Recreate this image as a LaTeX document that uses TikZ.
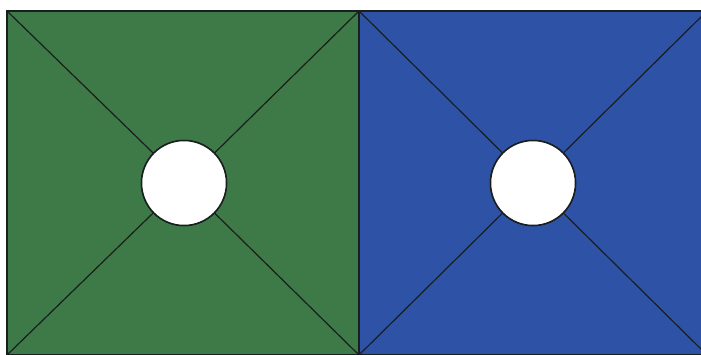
\documentclass[tikz,border=0pt]{standalone}
\definecolor{sqgreen}{RGB}{62,122,72}
\definecolor{sqblue}{RGB}{46,82,166}
\definecolor{edge}{RGB}{25,30,30}
\begin{document}
\begin{tikzpicture}[x=1pt,y=-1pt,
  panel/.style={draw=edge,line width=1.5pt},
  divider/.style={draw=edge,line width=2.6pt},
  diag/.style={draw=edge,line width=1.2pt},
  hole/.style={circle,draw=edge,line width=1.5pt,fill=white,minimum size=85pt,inner sep=0pt}]
\useasboundingbox (0,0) rectangle (701,354);
\fill[white] (0,0) rectangle (701,354);
% green panel
\coordinate (g1) at (7,11);
\coordinate (g2) at (359,11);
\coordinate (g3) at (359,355);
\coordinate (g4) at (7,355);
\fill[sqgreen] (g1) rectangle (g3);
% blue panel
\coordinate (b1) at (359,11);
\coordinate (b2) at (707,11);
\coordinate (b3) at (707,355);
\coordinate (b4) at (359,355);
\fill[sqblue] (b1) rectangle (b3);
\node[hole] (gc) at (184,183) {};
\node[hole] (bc) at (533,183) {};
\foreach \c in {g1,g2,g3,g4} \draw[diag] (\c) -- (gc);
\foreach \c in {b1,b2,b3,b4} \draw[diag] (\c) -- (bc);
\draw[panel] (g1) rectangle (g3);
\draw[panel] (b1) rectangle (b3);
\draw[divider] (g2) -- (g3);
\node[hole] at (gc) {};
\node[hole] at (bc) {};
\end{tikzpicture}
\end{document}
